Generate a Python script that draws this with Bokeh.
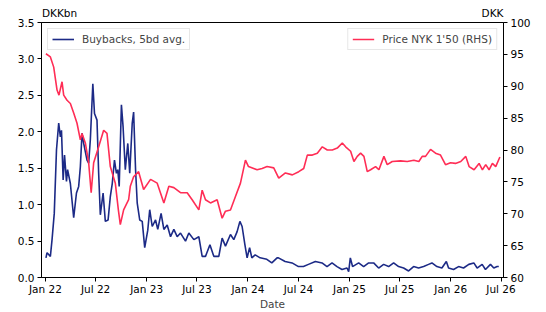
import pandas as pd
from bokeh.plotting import figure
from bokeh.models import (Range1d, LinearAxis, FixedTicker, PrintfTickFormatter,
                          DatetimeTickFormatter, Legend, LegendItem, ColumnDataSource)
from bokeh.embed import file_html
from bokeh.resources import INLINE

# ---- data ----
buyback_dates = [
    "2022-01-03", "2022-01-07", "2022-01-19", "2022-01-25", "2022-02-02", "2022-02-10", "2022-02-18",
    "2022-02-24", "2022-02-28", "2022-03-06", "2022-03-11", "2022-03-18", "2022-03-22", "2022-04-01",
    "2022-04-13", "2022-04-23", "2022-05-01", "2022-05-07", "2022-05-13", "2022-05-19", "2022-05-31",
    "2022-06-06", "2022-06-12", "2022-06-21", "2022-06-27", "2022-07-06", "2022-07-12", "2022-07-18",
    "2022-07-28", "2022-08-05", "2022-08-15", "2022-08-23", "2022-08-30", "2022-09-07", "2022-09-14",
    "2022-09-19", "2022-09-24", "2022-10-02", "2022-10-08", "2022-10-16", "2022-10-25", "2022-11-01",
    "2022-11-10", "2022-11-15", "2022-11-22", "2022-11-28", "2022-12-07", "2022-12-16", "2022-12-25",
    "2023-01-05", "2023-01-12", "2023-01-21", "2023-02-02", "2023-02-10", "2023-02-22", "2023-03-04",
    "2023-03-16", "2023-03-28", "2023-04-09", "2023-04-21", "2023-05-03", "2023-05-21", "2023-06-02",
    "2023-06-20", "2023-07-08", "2023-07-20", "2023-08-01", "2023-08-17", "2023-08-31", "2023-09-18",
    "2023-09-30", "2023-10-12", "2023-10-30", "2023-11-11", "2023-11-23", "2023-12-03", "2023-12-11",
    "2023-12-21", "2023-12-29", "2024-01-07", "2024-01-15", "2024-01-27", "2024-02-14", "2024-03-09",
    "2024-03-27", "2024-04-15", "2024-04-20", "2024-05-14", "2024-06-08", "2024-07-01", "2024-07-19",
    "2024-08-06", "2024-08-31", "2024-09-24", "2024-10-12", "2024-10-30", "2024-11-17", "2024-12-05",
    "2024-12-23", "2024-12-29", "2025-01-04", "2025-01-12", "2025-02-03", "2025-02-21", "2025-03-11",
    "2025-03-29", "2025-04-16", "2025-05-04", "2025-05-22", "2025-06-09", "2025-06-27", "2025-07-15",
    "2025-08-02", "2025-08-20", "2025-09-07", "2025-09-25", "2025-10-13", "2025-10-25", "2025-11-12",
    "2025-11-30", "2025-12-16", "2025-12-24", "2026-01-11", "2026-01-29", "2026-02-16", "2026-03-07",
    "2026-03-25", "2026-04-06", "2026-04-24", "2026-05-06", "2026-05-24", "2026-06-05", "2026-06-17",
    "2026-06-23",
]
buyback_values = [
    0.27, 0.34, 0.29, 0.52, 0.88, 1.75, 2.12,
    1.93, 2.02, 1.34, 1.68, 1.32, 1.48, 1.29,
    0.82, 1.16, 1.25, 1.52, 1.98, 1.84, 1.61,
    1.57, 1.89, 2.66, 2.25, 2.16, 1.43, 0.86,
    1.16, 0.77, 0.79, 1.11, 1.29, 1.61, 1.43,
    1.48, 1.25, 2.37, 2.07, 1.48, 1.84, 1.43,
    2.12, 2.27, 1.48, 1.02, 0.79, 0.77, 0.41,
    0.65, 0.93, 0.70, 0.79, 0.66, 0.88, 0.66,
    0.72, 0.56, 0.66, 0.56, 0.61, 0.50, 0.61,
    0.52, 0.56, 0.29, 0.29, 0.45, 0.29, 0.29,
    0.54, 0.43, 0.59, 0.52, 0.63, 0.77, 0.70,
    0.45, 0.27, 0.41, 0.27, 0.31, 0.27, 0.25,
    0.20, 0.27, 0.27, 0.22, 0.20, 0.15, 0.15,
    0.18, 0.22, 0.20, 0.15, 0.20, 0.15, 0.11,
    0.13, 0.08, 0.27, 0.15, 0.20, 0.15, 0.20,
    0.20, 0.13, 0.18, 0.15, 0.20, 0.15, 0.13,
    0.09, 0.15, 0.13, 0.15, 0.18, 0.20, 0.15,
    0.13, 0.22, 0.13, 0.11, 0.15, 0.13, 0.18,
    0.20, 0.13, 0.18, 0.11, 0.18, 0.13, 0.15,
    0.15,
]

price_dates = [
    "2022-01-03", "2022-01-19", "2022-01-31", "2022-02-12", "2022-02-19", "2022-03-02", "2022-03-08",
    "2022-03-20", "2022-04-01", "2022-04-13", "2022-04-25", "2022-05-07", "2022-05-13", "2022-05-25",
    "2022-06-06", "2022-06-15", "2022-06-24", "2022-07-12", "2022-07-30", "2022-08-11", "2022-08-23",
    "2022-09-10", "2022-09-21", "2022-09-28", "2022-10-10", "2022-10-28", "2022-11-03", "2022-11-15",
    "2022-12-03", "2022-12-21", "2023-01-15", "2023-02-08", "2023-03-04", "2023-03-22", "2023-04-09",
    "2023-05-03", "2023-05-27", "2023-06-14", "2023-07-08", "2023-07-20", "2023-08-01", "2023-08-19",
    "2023-09-12", "2023-09-30", "2023-10-12", "2023-10-30", "2023-11-17", "2023-12-05", "2023-12-23",
    "2024-01-03", "2024-02-03", "2024-02-21", "2024-03-10", "2024-04-03", "2024-04-21", "2024-05-15",
    "2024-06-09", "2024-07-02", "2024-07-20", "2024-08-02", "2024-08-20", "2024-09-07", "2024-09-25",
    "2024-10-13", "2024-10-31", "2024-11-18", "2024-12-06", "2024-12-18", "2025-01-05", "2025-01-17",
    "2025-01-29", "2025-02-10", "2025-02-22", "2025-03-06", "2025-03-18", "2025-04-05", "2025-04-17",
    "2025-05-05", "2025-05-17", "2025-06-04", "2025-07-04", "2025-07-28", "2025-08-21", "2025-09-08",
    "2025-09-20", "2025-10-02", "2025-10-20", "2025-11-07", "2025-11-25", "2025-12-13", "2025-12-31",
    "2026-01-18", "2026-02-06", "2026-02-24", "2026-03-08", "2026-03-26", "2026-04-13", "2026-04-25",
    "2026-05-07", "2026-05-19", "2026-05-31", "2026-06-12", "2026-06-27",
]
price_values = [
    95.1, 94.6, 93.0, 89.4, 88.6, 90.7, 88.6,
    87.8, 87.3, 85.8, 84.2, 81.6, 82.6, 81.1,
    78.0, 73.3, 78.0, 80.5, 83.1, 82.6, 77.4,
    74.8, 70.6, 68.3, 70.6, 72.2, 74.3, 75.8,
    76.6, 73.8, 75.4, 74.8, 71.7, 74.3, 74.1,
    73.3, 73.3, 72.2, 70.6, 73.7, 72.2, 71.7,
    72.2, 69.3, 70.4, 70.6, 72.7, 74.8, 78.4,
    77.4, 76.9, 77.1, 77.4, 77.2, 75.6, 76.4,
    76.1, 76.6, 77.1, 79.2, 79.2, 79.5, 80.5,
    80.0, 80.0, 80.3, 81.1, 80.5, 79.8, 78.2,
    79.0, 79.5, 79.0, 76.6, 76.9, 77.4, 76.9,
    79.0, 77.7, 78.2, 78.3, 78.2, 78.4, 78.2,
    79.0, 79.0, 80.1, 79.5, 79.2, 77.7, 78.0,
    77.9, 78.2, 79.0, 77.4, 76.9, 77.9, 76.9,
    77.7, 76.9, 77.9, 77.4, 78.9,
]

left_ticks = [0.0, 0.5, 1.0, 1.5, 2.0, 2.5, 3.0, 3.5]
right_ticks = [60, 65, 70, 75, 80, 85, 90, 95, 100]
x_tick_dates = ["2022-01-01", "2022-07-01", "2023-01-01", "2023-07-01", "2024-01-01",
                "2024-07-01", "2025-01-01", "2025-07-01", "2026-01-01", "2026-07-01"]
unit_left = "DKKbn"
unit_right = "DKK"

# ---- styling ----
FONT = "DejaVu Sans"
FS = "10.5px"
BLUE = "#1c2a86"
RED = "#ff2d55"

bb = ColumnDataSource(dict(x=pd.to_datetime(buyback_dates), y=buyback_values))
pr = ColumnDataSource(dict(x=pd.to_datetime(price_dates), y=price_values))

x0 = pd.Timestamp("2021-12-18")
x1 = pd.Timestamp("2026-07-10")
FW = 462  # frame width in px (546 - 41 - 43)

p = figure(width=546, height=312, x_axis_type="datetime", output_backend="svg",
           toolbar_location=None, x_range=Range1d(x0, x1), y_range=Range1d(0, 3.5),
           min_border_left=41, min_border_right=43, min_border_top=22, min_border_bottom=34)
p.extra_y_ranges = {"price": Range1d(60, 100)}
p.extra_x_ranges = {"px": Range1d(0, FW)}

r_bb = p.line("x", "y", source=bb, color=BLUE, line_width=1.6)
r_pr = p.line("x", "y", source=pr, color=RED, line_width=1.6, y_range_name="price")

p.grid.visible = False
p.outline_line_color = "black"
p.outline_line_width = 1
p.background_fill_color = "white"
p.border_fill_color = "white"

def style_axis(ax):
    ax.axis_line_color = "black"
    ax.major_tick_line_color = "black"
    ax.minor_tick_line_color = None
    ax.major_tick_out = 4
    ax.major_tick_in = 0
    ax.major_label_text_font = FONT
    ax.major_label_text_font_size = FS
    ax.major_label_text_color = "black"
    ax.major_label_standoff = 3
    ax.axis_label_text_font = FONT
    ax.axis_label_text_font_size = FS
    ax.axis_label_text_font_style = "normal"

yl = p.yaxis[0]
yl.ticker = FixedTicker(ticks=left_ticks)
yl.formatter = PrintfTickFormatter(format="%.1f")
style_axis(yl)

yr = LinearAxis(y_range_name="price", ticker=FixedTicker(ticks=right_ticks))
style_axis(yr)
p.add_layout(yr, "right")

xa = p.xaxis[0]
xa.ticker = FixedTicker(ticks=[pd.Timestamp(d).value / 1e6 for d in x_tick_dates])
xa.formatter = DatetimeTickFormatter(days="%b %y", months="%b %y", years="%b %y")
style_axis(xa)
xa.major_label_standoff = 1
xa.axis_label = "Date"
xa.axis_label_standoff = 0

# unit captions above the left and right axes (axis placed above, no line/ticks)
top = LinearAxis(x_range_name="px", ticker=FixedTicker(ticks=[18, 451]),
                 major_label_overrides={18: unit_left, 451: unit_right})
style_axis(top)
top.axis_line_color = None
top.major_tick_line_color = None
top.major_tick_out = 0
top.major_label_standoff = 4
p.add_layout(top, "above")

def make_legend(label, r, loc):
    lg = Legend(items=[LegendItem(label=label, renderers=[r])], location=loc)
    lg.label_text_font = FONT
    lg.label_text_font_size = FS
    lg.border_line_color = "#d0d0d0"
    lg.background_fill_alpha = 0.85
    lg.glyph_width = 22
    lg.glyph_height = 12
    lg.label_standoff = 8
    lg.padding = 4
    lg.margin = 6
    lg.label_height = 12
    return lg

p.add_layout(make_legend("Buybacks, 5bd avg.", r_bb, "top_left"))
p.add_layout(make_legend("Price NYK 1'50 (RHS)", r_pr, "top_right"))

open("out.html", "w").write(file_html(p, INLINE))
